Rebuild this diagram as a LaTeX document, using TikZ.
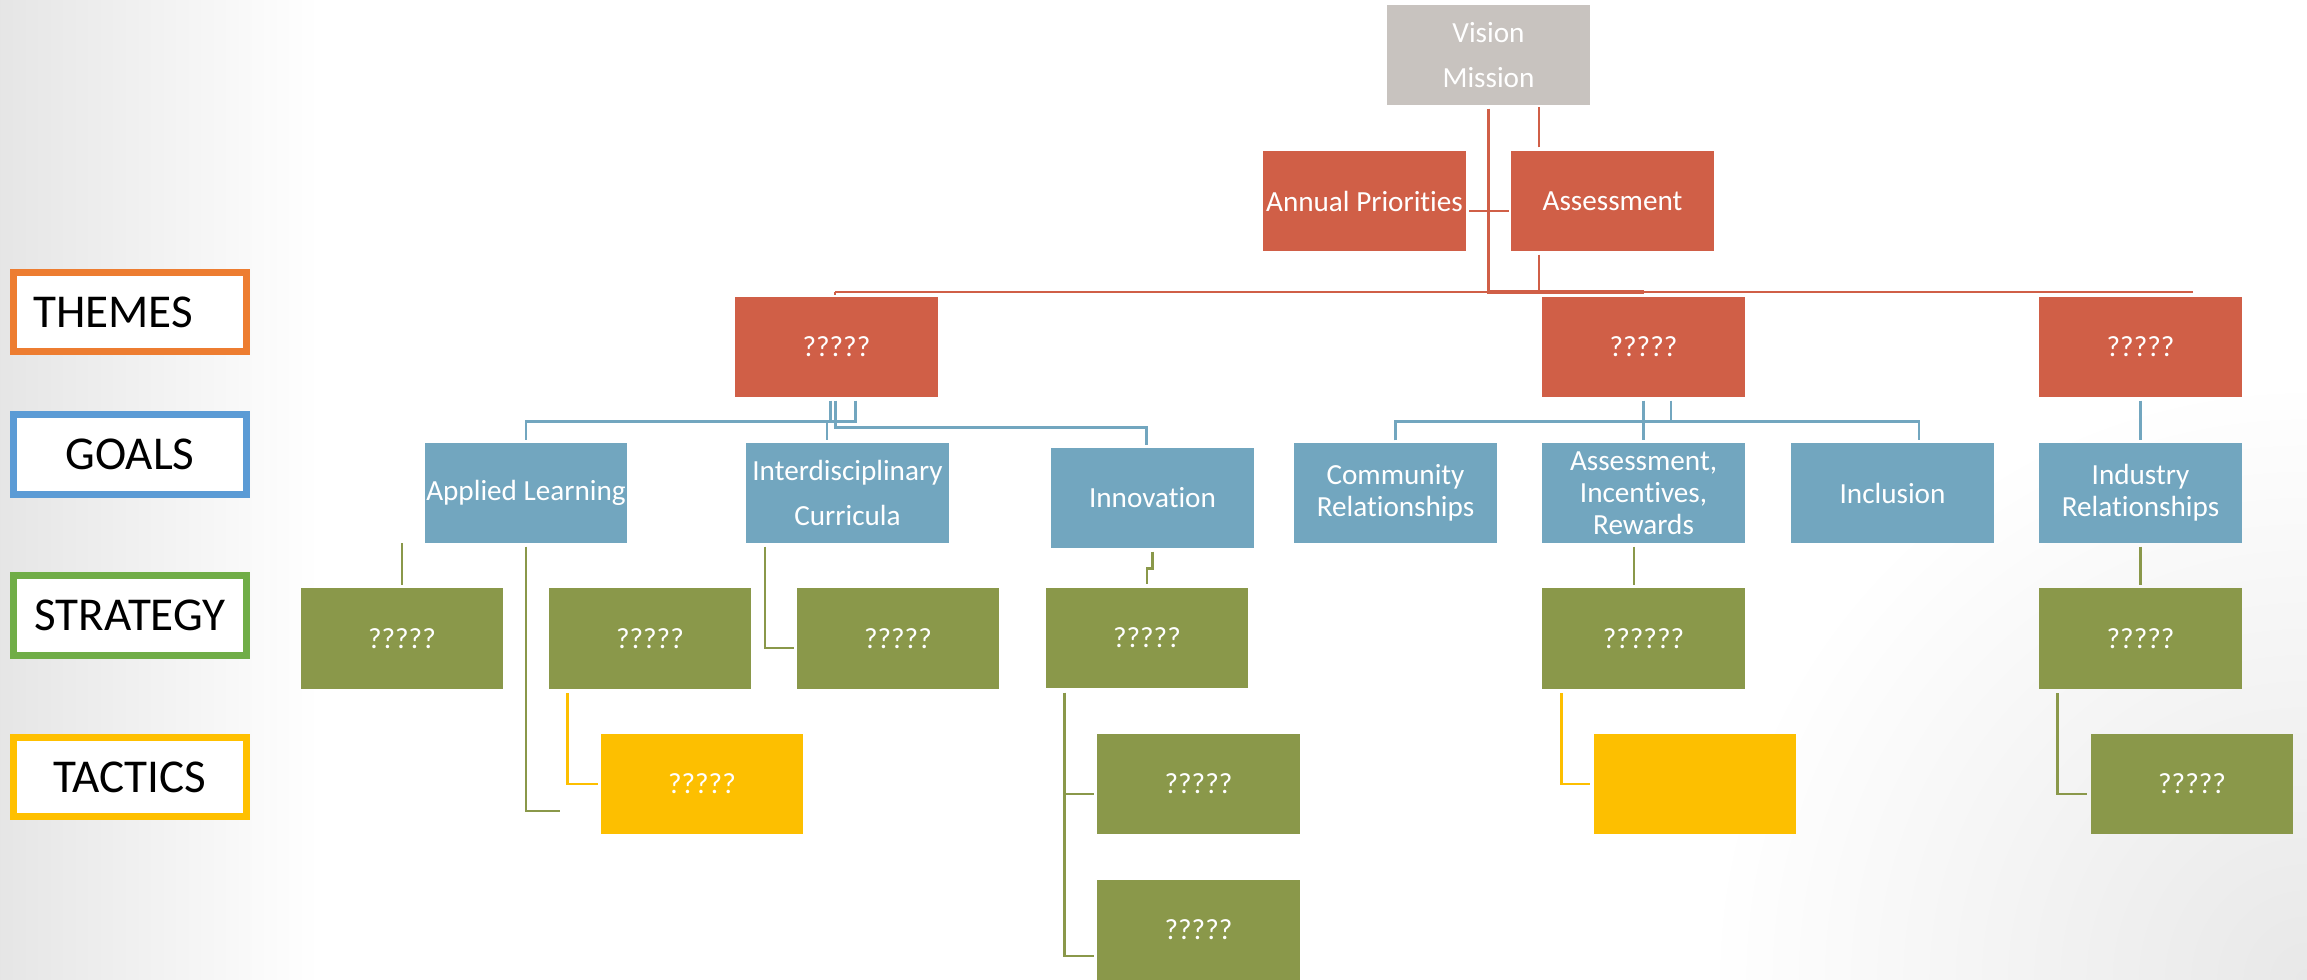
\documentclass[tikz,border=0pt]{standalone}
\usepackage{fontspec}
\setmainfont{Carlito}[Ligatures=NoCommon]
\usetikzlibrary{calc}
\definecolor{redc}{RGB}{208,95,71}
\definecolor{grayc}{RGB}{200,195,191}
\definecolor{bluec}{RGB}{114,166,191}
\definecolor{greenc}{RGB}{138,152,74}
\definecolor{goldc}{RGB}{253,191,0}
\definecolor{legor}{RGB}{237,125,49}
\definecolor{legbl}{RGB}{91,155,213}
\definecolor{leggr}{RGB}{112,173,71}
\definecolor{leggd}{RGB}{255,192,0}
\begin{document}
\begin{tikzpicture}[x=0.01cm,y=-0.01cm,
  box/.style={rectangle, inner sep=0pt, minimum width=2.02cm, minimum height=1cm,
    text=white, align=center, font=\fontsize{8.3}{9.1}\selectfont},
  wide/.style={font=\fontsize{8.3}{12.6}\selectfont},
  themebox/.style={box, fill=redc},
  topbox/.style={box, fill=grayc},
  goalbox/.style={box, fill=bluec},
  stratbox/.style={box, fill=greenc},
  tactbox/.style={box, fill=goldc},
  legend/.style={rectangle, draw=#1, line width=2pt, fill=white, minimum width=2.33cm,
    minimum height=0.79cm, inner sep=0pt, text=black, font=\fontsize{13.4}{16}\selectfont},
  rl/.style={draw=redc, line width=0.6pt},
  rthick/.style={draw=redc, line width=1.1pt},
  bl/.style={draw=bluec, line width=0.75pt},
  gl/.style={draw=greenc, line width=0.75pt},
  yl/.style={draw=goldc, line width=0.75pt}
]
\useasboundingbox (0,0) rectangle (2307,980);
% background
\fill[white] (0,0) rectangle (2307,980);
\shade[left color=black!10, right color=white] (0,0) rectangle (320,980);
\begin{scope}
  \clip (0,0) rectangle (2307,980);
  \shade[inner color=black!9, outer color=white] (2307,980) circle (6cm);
\end{scope}

% legend
\node[legend=legor] (lth) at (130,312) {THEMES\hspace*{0.34cm}\mbox{}};
\node[legend=legbl] (lgo) at (130,454.5) {GOALS};
\node[legend=leggr] (lst) at (130,615.5) {STRATEGY};
\node[legend=leggd] (lta) at (130,777) {TACTICS};

% top
\node[topbox, wide] (vis) at (1488.5,55) {Vision\\Mission};
\node[themebox] (ap) at (1364.5,201) {Annual Priorities};
\node[themebox] (as) at (1612.5,201) {Assessment};

% themes
\node[themebox] (th1) at (836.5,347) {?????};
\node[themebox] (th2) at (1643.5,347) {?????};
\node[themebox] (th3) at (2140.5,347) {?????};

% goals
\node[goalbox] (g1) at (526,493) {Applied Learning};
\node[goalbox, wide] (g2) at (847.5,493) {Interdisciplinary\\Curricula};
\node[goalbox] (g3) at (1152.5,498) {Innovation};
\node[goalbox] (g4) at (1395.5,493) {Community\\Relationships};
\node[goalbox] (g5) at (1643.5,493) {Assessment,\\Incentives,\\Rewards};
\node[goalbox] (g6) at (1892.5,493) {Inclusion};
\node[goalbox] (g7) at (2140.5,493) {Industry\\Relationships};

% strategies
\node[stratbox] (s1) at (402,638.5) {?????};
\node[stratbox] (s2) at (650,638.5) {?????};
\node[stratbox] (s3) at (898,638.5) {?????};
\node[stratbox] (s4) at (1147,638) {?????};
\node[stratbox] (s5) at (1643.5,638.5) {??????};
\node[stratbox] (s6) at (2140.5,638.5) {?????};

% tactics
\node[tactbox] (t1) at (702,784) {?????};
\node[stratbox] (t2) at (1198.5,784) {?????};
\node[stratbox] (t3) at (1198.5,930) {?????};
\node[tactbox] (t4) at (1695,784) {};
\node[stratbox] (t5) at (2192,784) {?????};

% red connectors
\coordinate (hl) at (835,292);
\coordinate (hr) at (2193,292);
\draw[rl] (hl) -- (hr);
\draw[rl] (hl) -- ++(0,3);
\draw[rthick] ([yshift=-0.03cm]vis.south) -- (vis.south |- hl) -- (th2.north |- hl);
\draw[rl] ([shift={(0.03cm,-0.1cm)}]ap.east) -- ([shift={(-0.02cm,-0.1cm)}]as.west);
\draw[rl] ([xshift=0.285cm,yshift=0.03cm]as.north west) -- ([xshift=0.285cm,yshift=0.43cm]as.north west);
\draw[rl] ([xshift=0.285cm,yshift=-0.03cm]as.south west) -- ([xshift=0.285cm]as.south west |- hl);

% blue connectors
\draw[bl] ([xshift=0.19cm,yshift=-0.03cm]th1.south) |- ([yshift=0.21cm]g1.north) -- ([yshift=0.02cm]g1.north);
\draw[bl] ([xshift=-0.06cm,yshift=-0.03cm]th1.south) -- ([xshift=-0.06cm,yshift=-0.25cm]th1.south);
\draw[bl] ([xshift=-0.205cm,yshift=0.21cm]g2.north) -- ([xshift=-0.205cm,yshift=0.02cm]g2.north);
\draw[bl] ([xshift=-0.007cm,yshift=-0.03cm]th1.south) |- ([xshift=-0.06cm,yshift=0.2cm]g3.north) -- ([xshift=-0.06cm,yshift=0.02cm]g3.north);
\draw[bl] ([yshift=-0.03cm]th2.south) -- ([yshift=0.02cm]g5.north);
\draw[bl] ([xshift=0.275cm,yshift=-0.03cm]th2.south) -- ([xshift=0.275cm,yshift=-0.25cm]th2.south);
\draw[bl] ([yshift=0.02cm]g4.north) |- ([xshift=0.265cm,yshift=0.21cm]g6.north) -- ([xshift=0.265cm,yshift=0.02cm]g6.north);
\draw[bl] ([yshift=-0.03cm]th3.south) -- ([yshift=0.02cm]g7.north);

% green connectors
\draw[gl] ([yshift=0.03cm]s1.north) -- ([yshift=0.45cm]s1.north);
\draw[gl] ([yshift=-0.03cm]g1.south) |- ([xshift=-0.405cm,yshift=-0.27cm]t1.west);
\draw[gl] ([xshift=-0.825cm,yshift=-0.03cm]g2.south) |- ([xshift=-0.02cm,yshift=-0.095cm]s3.west);
\draw[gl] ([yshift=-0.03cm]g3.south) -- ([yshift=-0.195cm]g3.south) -| ([yshift=0.03cm]s4.north);
\draw[gl] ([xshift=0.19cm,yshift=-0.04cm]s4.south west) |- ([xshift=-0.03cm,yshift=-0.26cm]t3.west);
\draw[gl] ([xshift=0.19cm,yshift=-0.1cm]s4.south west |- t2.west) -- ([xshift=-0.03cm,yshift=-0.1cm]t2.west);
\draw[gl] ([xshift=-0.095cm,yshift=-0.03cm]g5.south) -- ([xshift=-0.095cm,yshift=0.03cm]s5.north);
\draw[gl] ([yshift=-0.03cm]g7.south) -- ([yshift=0.03cm]s6.north);
\draw[gl] ([xshift=0.19cm,yshift=-0.04cm]s6.south west) |- ([xshift=-0.03cm,yshift=-0.1cm]t5.west);

% gold connectors
\draw[yl] ([xshift=0.19cm,yshift=-0.04cm]s2.south west) |- ([xshift=-0.025cm]t1.west);
\draw[yl] ([xshift=0.195cm,yshift=-0.04cm]s5.south west) |- ([xshift=-0.03cm]t4.west);
\end{tikzpicture}
\end{document}
